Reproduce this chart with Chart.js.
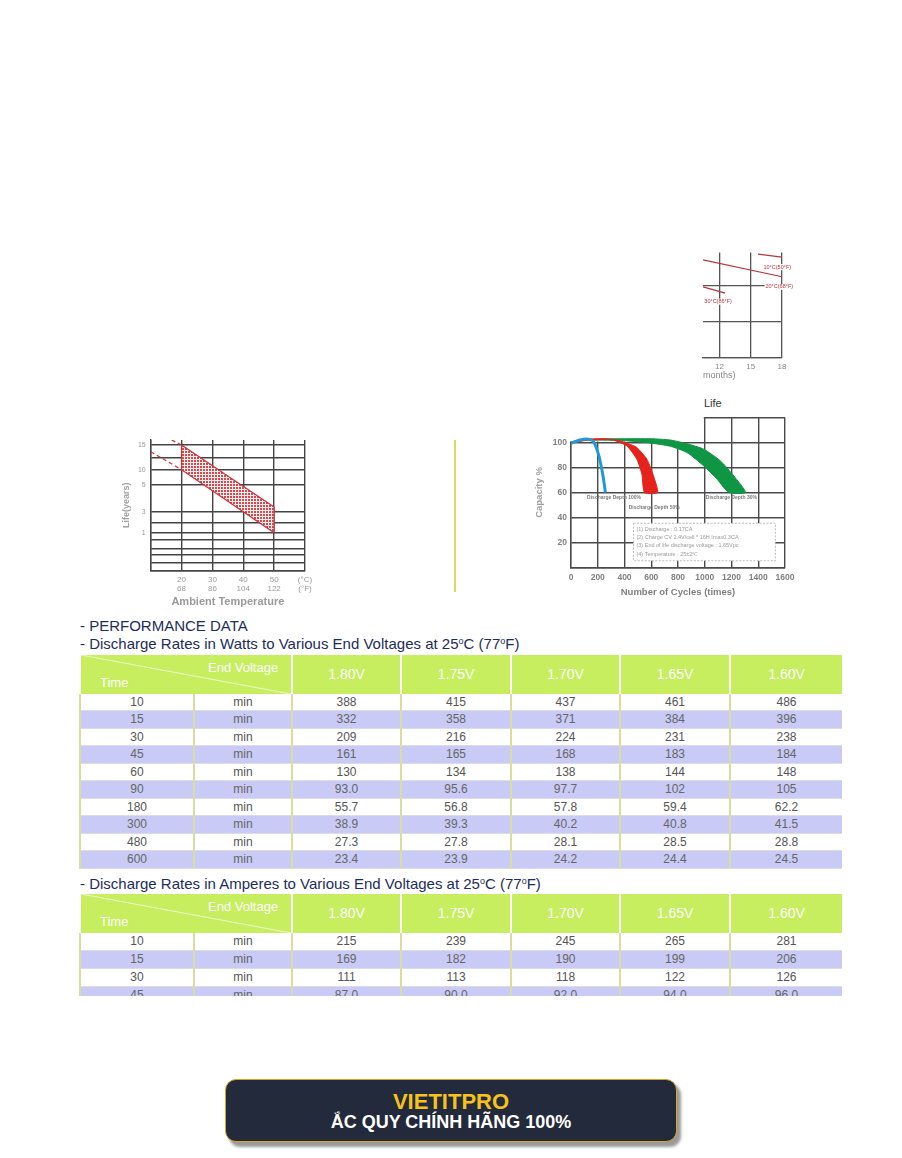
<!DOCTYPE html>
<html>
<head>
<meta charset="utf-8">
<script src="https://cdn.jsdelivr.net/npm/chart.js@4.4.1/dist/chart.umd.min.js"></script>
<style>
  body { margin: 0; background: #fff; width: 902px; height: 1158px; position: relative; overflow: hidden; font-family: "Liberation Sans", Arial, sans-serif; }
  .abs { position: absolute; }
  .ttl { position: absolute; left: 80px; color: #1d2d5c; font-size: 15px; line-height: 18px; white-space: nowrap; }
  .ttl sup { font-size: 9px; line-height: 0; vertical-align: 5px; }
  .vline { position: absolute; left: 454px; top: 440px; width: 2px; height: 152px; background: #d3df62; }
  .lifeTitle { position: absolute; left: 704px; top: 397px; font-size: 11px; color: #333; }
  .tblWrap { position: absolute; left: 79px; width: 763px; overflow: hidden; }
  table.perf { width: 763px; border-collapse: collapse; table-layout: fixed; }
  table.perf th { background: #c6ee5e; color: #fff; font-family: "Liberation Sans Narrow", "Arial Narrow", "Liberation Sans", sans-serif; font-weight: normal; font-size: 14px; height: 38.7px; padding: 0; border-left: 2px solid #fff; border-right: 2px solid #fff; }
  table.perf th.diag { position: relative; background: #c6ee5e linear-gradient(to top right, transparent calc(50% - 1px), #eef9c8 50%, transparent calc(50% + 1px)); }
  table.perf th.diag span { position: absolute; font-size: 13px; }
  table.perf td { height: 16.5px; padding: 0; line-height: 16px; text-align: center; font-size: 12px; color: #555; border-left: 2px solid #d8df9e; border-right: 2px solid #d8df9e; border-bottom: 1px solid #dcdce6; }
  table.perf.tall td { height: 17px; }
  table.perf tr.alt td { background: #c9caf6; color: #666; }
  .banner { position: absolute; left: 225px; top: 1079px; width: 452px; height: 63px; box-sizing: border-box; border: 1.5px solid #d9a521; border-radius: 11px; background: #222a3b; box-shadow: 4px 5px 3px #9a9a9a; text-align: center; }
  .b1 { color: #f7c21b; font-weight: bold; font-size: 22px; line-height: 20px; margin-top: 12px; }
  .b2 { color: #fff; font-weight: bold; font-size: 18px; line-height: 20px; }
</style>
</head>
<body>

<div class="abs" style="left:700px;top:248px"><canvas id="storeChart" width="100" height="135"></canvas></div>
<div class="lifeTitle">Life</div>
<div class="abs" style="left:110px;top:430px"><canvas id="lifeChart" width="215" height="180"></canvas></div>
<div class="vline"></div>
<div class="abs" style="left:520px;top:395px"><canvas id="cycleChart" width="280" height="210"></canvas></div>

<div class="ttl" style="top:617px">- PERFORMANCE DATA</div>
<div class="ttl" style="top:635px">- Discharge Rates in Watts to Various End Voltages at 25<sup>o</sup>C (77<sup>o</sup>F)</div>
<div class="tblWrap" style="top:655px;height:214px"><table class="perf" id="wattTable"></table></div>

<div class="ttl" style="top:875px">- Discharge Rates in Amperes to Various End Voltages at 25<sup>o</sup>C (77<sup>o</sup>F)</div>
<div class="tblWrap" style="top:894px;height:102px"><table class="perf tall" id="ampTable"></table></div>

<div class="banner"><div class="b1">VIETITPRO</div><div class="b2">ẮC QUY CHÍNH HÃNG 100%</div></div>

<script>
// storage fragment (top right)
const storeMonthTicks = [12, 15, 18];
const storeGridCap = [40, 60, 80];
const store10Months = [15.7, 18];
const store10Cap = [97.7, 96.0];
const store20Months = [10.43, 18];
const store20Cap = [94.4, 85.0];
const store30Months = [10.43, 12.55];
const store30Cap = [79.4, 75.9];
const storeLabels = ['10°C(50°F)', '20°C(68°F)', '30°C(86°F)'];

// life vs ambient temperature
const lifeTempTicks = [10, 20, 30, 40, 50, 60];
const lifeTempC = ['', '20', '30', '40', '50', '(°C)'];
const lifeTempF = ['', '68', '86', '104', '122', '(°F)'];
const lifeGridPos = [0, 8, 15.7, 22.4, 30.7, 38, 48.4, 59, 85.7, 101, 113.4, 125.7];
const lifeGridLabel = ['', '', '', '', '', '1', '', '3', '5', '10', '', '15'];
const lifeUpperTemp = [20, 50];
const lifeUpperPos = [125.7, 63.7];
const lifeLowerTemp = [20, 50];
const lifeLowerPos = [101, 38];
const lifeUpperDashTemp = [16.8, 20];
const lifeUpperDashPos = [130.7, 125.7];
const lifeLowerDashTemp = [10, 20];
const lifeLowerDashPos = [119, 101];

// capacity vs number of cycles
const cycleTicks = [0, 200, 400, 600, 800, 1000, 1200, 1400, 1600];
const capacityTicks = [0, 20, 40, 60, 80, 100, 120];
const dod100Cycles = [0, 67, 130, 167, 205, 230, 247, 257];
const dod100Cap = [99.5, 102, 102.7, 100.8, 90.7, 78.7, 68, 60];
const dod50OuterCycles = [0, 100, 250, 367, 430, 492, 567, 617, 647];
const dod50OuterCap = [100.5, 102.5, 103, 101.3, 99, 96, 86.7, 73.3, 60];
const dod50InnerCycles = [0, 100, 250, 317, 417, 492, 530, 550];
const dod50InnerCap = [99.5, 101.5, 102.5, 101.9, 97.3, 86.7, 74.7, 60];
const dod30OuterCycles = [150, 250, 400, 600, 742, 867, 992, 1117, 1217, 1305];
const dod30OuterCap = [102.5, 103, 103, 103, 102, 99, 94.7, 85.3, 73.3, 60];
const dod30InnerCycles = [150, 400, 600, 742, 867, 992, 1092, 1180];
const dod30InnerCap = [102, 101.5, 99.5, 97, 92, 81.3, 70.7, 60];
const depthLabels = ['Discharge Depth 100%', 'Discharge Depth 50%', 'Discharge Depth 30%'];
const testNotes = ['(1) Discharge : 0.17CA', '(2) Charge CV 2.4V/cell * 16H Imax0.3CA', '(3) End of life discharge voltage : 1.65Vpc', '(4) Temperature : 25±2℃'];

// performance tables
const endVoltages = ['1.80V', '1.75V', '1.70V', '1.65V', '1.60V'];
const wattTimes = [10, 15, 30, 45, 60, 90, 180, 300, 480, 600];
const watts180 = ['388', '332', '209', '161', '130', '93.0', '55.7', '38.9', '27.3', '23.4'];
const watts175 = ['415', '358', '216', '165', '134', '95.6', '56.8', '39.3', '27.8', '23.9'];
const watts170 = ['437', '371', '224', '168', '138', '97.7', '57.8', '40.2', '28.1', '24.2'];
const watts165 = ['461', '384', '231', '183', '144', '102', '59.4', '40.8', '28.5', '24.4'];
const watts160 = ['486', '396', '238', '184', '148', '105', '62.2', '41.5', '28.8', '24.5'];
const ampTimes = [10, 15, 30, 45];
const amps180 = ['215', '169', '111', '87.0'];
const amps175 = ['239', '182', '113', '90.0'];
const amps170 = ['245', '190', '118', '92.0'];
const amps165 = ['265', '199', '122', '94.0'];
const amps160 = ['281', '206', '126', '96.0'];


function toPoints(xs, ys) {
  return xs.map((x, i) => ({ x: x, y: ys[i] }));
}

function bandPoints(outerX, outerY, innerX, innerY) {
  const outer = toPoints(outerX, outerY);
  const inner = toPoints(innerX, innerY).reverse();
  return outer.concat(inner, [outer[0]]);
}

function dotPattern() {
  const c = document.createElement('canvas');
  c.width = 3;
  c.height = 3;
  const g = c.getContext('2d');
  g.fillStyle = '#fdf1f1';
  g.fillRect(0, 0, 3, 3);
  g.fillStyle = '#d8474c';
  g.fillRect(0, 0, 2, 2);
  return g.createPattern(c, 'repeat');
}

Chart.defaults.font.family = '"Liberation Sans", Arial, sans-serif';
Chart.defaults.animation = false;
Chart.defaults.plugins.legend.display = false;
Chart.defaults.plugins.tooltip.enabled = false;
Chart.defaults.elements.point.radius = 0;


// ---- storage fragment ----
const storeLabelPlugin = {
  id: 'storeLabels',
  afterDatasetsDraw(chart) {
    const ctx = chart.ctx;
    const xs = chart.scales.x, ys = chart.scales.y;
    const spots = [[17.55, 90.4], [17.74, 79.3], [11.88, 71.1]];
    ctx.save();
    ctx.font = '5.5px "Liberation Sans", Arial';
    ctx.textAlign = 'center';
    ctx.textBaseline = 'middle';
    storeLabels.forEach((t, i) => {
      const px = xs.getPixelForValue(spots[i][0]);
      const py = ys.getPixelForValue(spots[i][1]);
      const w = ctx.measureText(t).width;
      ctx.fillStyle = '#fff';
      ctx.fillRect(px - w / 2 - 1, py - 3, w + 2, 6);
      ctx.fillStyle = '#b8333a';
      ctx.fillText(t, px, py);
    });
    ctx.restore();
  }
};

new Chart(document.getElementById('storeChart'), {
  type: 'line',
  data: {
    datasets: [
      { data: toPoints(store10Months, store10Cap), borderColor: '#b8333a', borderWidth: 1.2 },
      { data: toPoints(store20Months, store20Cap), borderColor: '#b8333a', borderWidth: 1.2 },
      { data: toPoints(store30Months, store30Cap), borderColor: '#b8333a', borderWidth: 1.2 }
    ]
  },
  options: {
    responsive: false,
    layout: { padding: { left: 3, top: 4.6, right: 18, bottom: 0 } },
    scales: {
      x: {
        type: 'linear', min: 10.43, max: 18,
        afterBuildTicks: s => { s.ticks = storeMonthTicks.map(v => ({ value: v })); },
        afterFit: s => { s.height = 25.7; },
        ticks: { color: '#888', font: { size: 8 }, padding: 5, maxRotation: 0, autoSkip: false },
        grid: { color: '#555', lineWidth: 1.3, drawTicks: false },
        border: { color: '#555', width: 1.3 },
        title: { display: true, text: 'months)', align: 'start', color: '#888', font: { size: 9 }, padding: { top: 0, bottom: 2 } }
      },
      y: {
        type: 'linear', min: 40, max: 98.5,
        afterBuildTicks: s => { s.ticks = storeGridCap.map(v => ({ value: v })); },
        afterFit: s => { s.width = 0; },
        ticks: { display: false },
        grid: { color: '#555', lineWidth: 1.3, drawTicks: false },
        border: { display: false }
      }
    }
  },
  plugins: [storeLabelPlugin]
});


// ---- life vs temperature ----
const lifeBand = toPoints(lifeUpperTemp, lifeUpperPos).concat(toPoints(lifeLowerTemp, lifeLowerPos).reverse());
lifeBand.push(lifeBand[0]);

new Chart(document.getElementById('lifeChart'), {
  type: 'line',
  data: {
    datasets: [
      { data: lifeBand, fill: 'shape', backgroundColor: dotPattern(), borderColor: '#c8363c', borderWidth: 1.3, tension: 0 },
      { data: toPoints(lifeUpperDashTemp, lifeUpperDashPos), borderColor: '#c8363c', borderWidth: 1.3, borderDash: [4, 3] },
      { data: toPoints(lifeLowerDashTemp, lifeLowerDashPos), borderColor: '#c8363c', borderWidth: 1.3, borderDash: [4, 3] }
    ]
  },
  options: {
    responsive: false,
    layout: { padding: { left: 0, top: 10, right: 20, bottom: 0 } },
    scales: {
      x: {
        type: 'linear', min: 10, max: 60,
        afterBuildTicks: s => { s.ticks = lifeTempTicks.map(v => ({ value: v })); },
        afterFit: s => { s.height = 39.3; },
        ticks: {
          color: '#9a9a9a', font: { size: 8 }, padding: 4, maxRotation: 0, autoSkip: false,
          callback: v => { const i = lifeTempTicks.indexOf(v); return i > 0 ? [lifeTempC[i], lifeTempF[i]] : ''; }
        },
        grid: { color: '#444', lineWidth: 1.4, drawTicks: false },
        border: { color: '#444', width: 1.4 },
        title: { display: true, text: 'Ambient Temperature', color: '#9a9a9a', font: { size: 11, weight: 'bold' }, padding: { top: 0, bottom: 1 } }
      },
      y: {
        type: 'linear', min: 0, max: 130.7,
        afterBuildTicks: s => { s.ticks = lifeGridPos.map(v => ({ value: v })); },
        afterFit: s => { s.width = 40.7; },
        ticks: {
          color: '#9a9a9a', font: { size: 7 }, padding: 5, autoSkip: false,
          callback: v => { const i = lifeGridPos.indexOf(v); return i >= 0 ? lifeGridLabel[i] : ''; }
        },
        grid: { color: '#444', lineWidth: 1.4, drawTicks: false },
        border: { color: '#444', width: 1.4 },
        title: { display: true, text: 'Life(years)', color: '#a0a0a0', font: { size: 9, weight: 'bold' }, padding: { top: 11, bottom: 0 } }
      }
    }
  }
});


// ---- capacity vs cycles ----
const cycleDecor = {
  id: 'cycleDecor',
  beforeDatasetsDraw(chart) {
    // the upper box only exists from 1000 cycles on
    const ctx = chart.ctx, a = chart.chartArea;
    const xs = chart.scales.x, ys = chart.scales.y;
    ctx.save();
    ctx.fillStyle = '#fff';
    ctx.fillRect(a.left - 3, a.top - 3, xs.getPixelForValue(1000) - 1 - (a.left - 3), ys.getPixelForValue(100) - 1 - (a.top - 3));
    ctx.restore();
  },
  afterDatasetsDraw(chart) {
    const ctx = chart.ctx;
    const xs = chart.scales.x, ys = chart.scales.y;
    ctx.save();
    ctx.font = 'bold 5px "Liberation Sans", Arial';
    ctx.fillStyle = '#7a7a7a';
    ctx.textAlign = 'center';
    ctx.textBaseline = 'middle';
    const spots = [[322, 56.3], [622, 48.2], [1199, 56.3]];
    depthLabels.forEach((t, i) => {
      ctx.fillText(t, xs.getPixelForValue(spots[i][0]), ys.getPixelForValue(spots[i][1]));
    });
    // test conditions box
    const x0 = xs.getPixelForValue(467), x1 = xs.getPixelForValue(1528);
    const y0 = ys.getPixelForValue(35.4), y1 = ys.getPixelForValue(5.4);
    ctx.fillStyle = '#fff';
    ctx.fillRect(x0, y0, x1 - x0, y1 - y0);
    ctx.setLineDash([2, 1.5]);
    ctx.strokeStyle = '#aaa';
    ctx.lineWidth = 0.8;
    ctx.strokeRect(x0, y0, x1 - x0, y1 - y0);
    ctx.font = '5.5px "Liberation Sans", Arial';
    ctx.fillStyle = '#9a9a9a';
    ctx.textAlign = 'left';
    testNotes.forEach((t, i) => {
      ctx.fillText(t, x0 + 3, y0 + 6 + i * 8.3);
    });
    ctx.restore();
  }
};

new Chart(document.getElementById('cycleChart'), {
  type: 'line',
  data: {
    datasets: [
      { data: toPoints(dod100Cycles, dod100Cap), borderColor: '#1f9ad6', borderWidth: 3, tension: 0.3 },
      { data: bandPoints(dod50OuterCycles, dod50OuterCap, dod50InnerCycles, dod50InnerCap), fill: 'shape', backgroundColor: '#e5221c', borderColor: '#e5221c', borderWidth: 1, tension: 0.2 },
      { data: bandPoints(dod30OuterCycles, dod30OuterCap, dod30InnerCycles, dod30InnerCap), fill: 'shape', backgroundColor: '#0f9644', borderColor: '#0f9644', borderWidth: 1, tension: 0.2 }
    ]
  },
  options: {
    responsive: false,
    layout: { padding: { left: 0, top: 22.5, right: 15, bottom: 0 } },
    scales: {
      x: {
        type: 'linear', min: 0, max: 1600,
        afterBuildTicks: s => { s.ticks = cycleTicks.map(v => ({ value: v })); },
        afterFit: s => { s.height = 37.5; },
        ticks: { color: '#808080', font: { size: 8.5, weight: 'bold' }, padding: 5, maxRotation: 0, autoSkip: false, callback: v => String(v) },
        grid: { color: '#4a4a4a', lineWidth: 1.4, drawTicks: false },
        border: { color: '#4a4a4a', width: 1.4 },
        title: { display: true, text: 'Number of Cycles (times)', color: '#808080', font: { size: 9.5, weight: 'bold' }, padding: { top: 0, bottom: 7 } }
      },
      y: {
        type: 'linear', min: 0, max: 120,
        afterBuildTicks: s => { s.ticks = capacityTicks.map(v => ({ value: v })); },
        afterFit: s => { s.width = 51; },
        ticks: {
          color: '#808080', font: { size: 8.5, weight: 'bold' }, padding: 4, autoSkip: false,
          callback: v => (v === 0 || v > 100 ? '' : String(v))
        },
        grid: { color: '#4a4a4a', lineWidth: 1.4, drawTicks: false },
        border: { color: '#4a4a4a', width: 1.4 },
        title: { display: true, text: 'Capacity %', color: '#a0a0a0', font: { size: 9.5, weight: 'bold' }, padding: { top: 14, bottom: 0 } }
      }
    }
  },
  plugins: [cycleDecor]
});


// ---- tables ----
function buildTable(id, times, cols) {
  let html = '<colgroup><col style="width:114px"><col style="width:98px"><col style="width:109px"><col style="width:110px"><col style="width:109px"><col style="width:110px"><col style="width:113px"></colgroup>';
  html += '<tr><th colspan="2" class="diag"><span style="left:127px;top:5px">End Voltage</span><span style="left:19px;top:20px">Time</span></th>';
  endVoltages.forEach(v => { html += '<th>' + v + '</th>'; });
  html += '</tr>';
  times.forEach((t, r) => {
    html += '<tr' + (r % 2 ? ' class="alt"' : '') + '><td>' + t + '</td><td>min</td>';
    cols.forEach(c => { html += '<td>' + c[r] + '</td>'; });
    html += '</tr>';
  });
  document.getElementById(id).innerHTML = html;
}

buildTable('wattTable', wattTimes, [watts180, watts175, watts170, watts165, watts160]);
buildTable('ampTable', ampTimes, [amps180, amps175, amps170, amps165, amps160]);
</script>
</body>
</html>
